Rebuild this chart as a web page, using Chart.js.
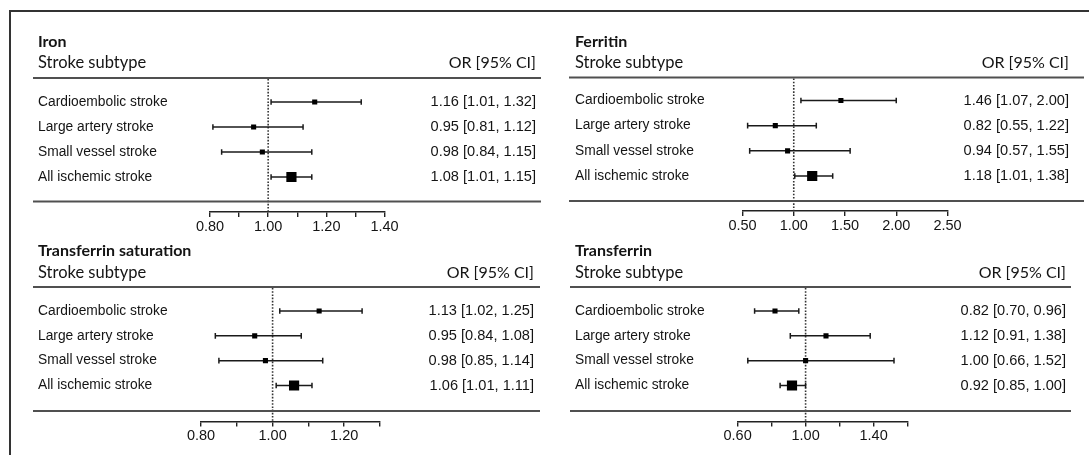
<!DOCTYPE html>
<html>
<head>
<meta charset="utf-8">
<script src="https://cdn.jsdelivr.net/npm/chart.js@4.4.1/dist/chart.umd.min.js"></script>
<style>
  html, body { margin: 0; padding: 0; background: #fff; }
  #wrap { position: relative; width: 1089px; height: 455px; overflow: hidden; background: #fff; }
  #wrap canvas { position: absolute; left: 0; top: 0; }
  #frame { position: absolute; left: 9px; top: 10px; width: 1200px; height: 600px; border: 2px solid #333; box-sizing: border-box; }
</style>
</head>
<body>
<div id="wrap">
  <div id="frame"></div>
  <canvas id="cIron" width="1089" height="455"></canvas>
  <canvas id="cFerritin" width="1089" height="455"></canvas>
  <canvas id="cTsat" width="1089" height="455"></canvas>
  <canvas id="cTransferrin" width="1089" height="455"></canvas>
</div>
<script>
// datos
const subtypes = ["Cardioembolic stroke", "Large artery stroke", "Small vessel stroke", "All ischemic stroke"];

const ironOR = [1.16, 0.95, 0.98, 1.08];
const ironLo = [1.01, 0.81, 0.84, 1.01];
const ironHi = [1.32, 1.12, 1.15, 1.15];
const ironTicks = [0.8, 0.9, 1.0, 1.1, 1.2, 1.3, 1.4];
const ironTickLabels = ["0.80", "", "1.00", "", "1.20", "", "1.40"];

const ferritinOR = [1.46, 0.82, 0.94, 1.18];
const ferritinLo = [1.07, 0.55, 0.57, 1.01];
const ferritinHi = [2.00, 1.22, 1.55, 1.38];
const ferritinTicks = [0.5, 1.0, 1.5, 2.0, 2.5];
const ferritinTickLabels = ["0.50", "1.00", "1.50", "2.00", "2.50"];

const tsatOR = [1.13, 0.95, 0.98, 1.06];
const tsatLo = [1.02, 0.84, 0.85, 1.01];
const tsatHi = [1.25, 1.08, 1.14, 1.11];
const tsatTicks = [0.8, 0.9, 1.0, 1.1, 1.2, 1.3];
const tsatTickLabels = ["0.80", "", "1.00", "", "1.20", ""];

const transferrinOR = [0.82, 1.12, 1.00, 0.92];
const transferrinLo = [0.70, 0.91, 0.66, 0.85];
const transferrinHi = [0.96, 1.38, 1.52, 1.00];
const transferrinTicks = [0.6, 0.8, 1.0, 1.2, 1.4, 1.6];
const transferrinTickLabels = ["0.60", "", "1.00", "", "1.40", ""];

const TEXT = "#141414";
const LINE = "#505050";
const W = 1089, H = 455, AXIS_H = 24;

function fmt(v) { return v.toFixed(2); }

function forestPanel(canvasId, title, or, lo, hi, ticks, tickLabels, box) {
  const el = document.getElementById(canvasId);
  const step = (box.row3 - box.row0) / 3;
  const yMin = -(box.row0 - box.lineY) / step;
  const yMax = yMin + (box.axisY - box.lineY) / step;

  const ciSets = subtypes.map((s, i) => ({
    type: "line",
    data: [{ x: lo[i], y: i }, { x: hi[i], y: i }],
    borderColor: "#1a1a1a",
    borderWidth: 1.5,
    pointStyle: "line",
    rotation: 90,
    pointRadius: 2.8,
    pointBorderWidth: 1.5,
    pointBorderColor: "#1a1a1a",
    order: 2
  }));

  const pointSet = {
    type: "scatter",
    data: or.map((v, i) => ({ x: v, y: i })),
    pointStyle: "rect",
    pointRadius: or.map((v, i) => (i === or.length - 1 ? 7.2 : 3.6)),
    backgroundColor: "#000",
    borderWidth: 0,
    order: 1
  };

  const forestDeco = {
    id: "forestDeco_" + canvasId,
    beforeDatasetsDraw(chart) {
      const { ctx, chartArea } = chart;
      const xr = chart.scales.x.getPixelForValue(1);
      ctx.save();
      ctx.strokeStyle = "#333";
      ctx.lineWidth = 1.6;
      ctx.setLineDash([1.6, 1.6]);
      ctx.beginPath();
      ctx.moveTo(xr, chartArea.top + 1);
      ctx.lineTo(xr, chartArea.bottom);
      ctx.stroke();
      ctx.restore();
    },
    afterDraw(chart) {
      const { ctx } = chart;
      const ys = chart.scales.y;
      ctx.save();
      ctx.fillStyle = TEXT;
      ctx.textBaseline = "middle";

      ctx.font = "bold 16px Lato";
      ctx.textAlign = "left";
      ctx.fillText(title, box.textX, box.titleY);

      ctx.font = "16.5px Lato";
      ctx.fillText("Stroke subtype", box.textX, box.subY);
      ctx.font = "16px Lato";
      ctx.textAlign = "right";
      ctx.fillText("OR [95% CI]", box.textR, box.subY);

      ctx.strokeStyle = LINE;
      ctx.lineWidth = 2;
      ctx.beginPath();
      ctx.moveTo(box.lineX0, box.lineY);
      ctx.lineTo(box.lineX1, box.lineY);
      ctx.moveTo(box.lineX0, box.bottomY);
      ctx.lineTo(box.lineX1, box.bottomY);
      ctx.stroke();

      subtypes.forEach((s, i) => {
        const y = ys.getPixelForValue(i);
        ctx.font = "13.8px 'Liberation Sans', Arial";
        ctx.textAlign = "left";
        ctx.fillText(s, box.textX, y);
        ctx.font = "14.6px 'Liberation Sans', Arial";
        ctx.textAlign = "right";
        ctx.fillText(fmt(or[i]) + " [" + fmt(lo[i]) + ", " + fmt(hi[i]) + "]", box.textR, y);
      });
      ctx.restore();
    }
  };

  new Chart(el, {
    type: "scatter",
    data: { datasets: [pointSet, ...ciSets] },
    options: {
      responsive: false,
      animation: false,
      events: [],
      layout: {
        padding: {
          left: box.x0,
          right: W - box.x1,
          top: box.lineY,
          bottom: H - box.axisY - AXIS_H
        }
      },
      plugins: { legend: { display: false }, tooltip: { enabled: false } },
      scales: {
        x: {
          type: "linear",
          min: ticks[0],
          max: ticks[ticks.length - 1],
          afterBuildTicks: (s) => { s.ticks = ticks.map(v => ({ value: v })); },
          afterFit: (s) => { s.height = AXIS_H; },
          ticks: {
            autoSkip: false,
            maxRotation: 0,
            padding: 1,
            color: TEXT,
            font: { family: "'Liberation Sans', Arial", size: 14.5 },
            callback: (v, idx) => tickLabels[idx]
          },
          grid: { drawOnChartArea: false, drawTicks: true, tickLength: 5, color: "#222", lineWidth: 1.4 },
          border: { display: true, color: "#222", width: 1.4 }
        },
        y: {
          type: "linear",
          display: false,
          reverse: true,
          min: yMin,
          max: yMax
        }
      }
    },
    plugins: [forestDeco]
  });
}

forestPanel("cIron", "Iron", ironOR, ironLo, ironHi, ironTicks, ironTickLabels, {
  textX: 38, textR: 536, titleY: 42, subY: 63, lineY: 78, lineX0: 33, lineX1: 541,
  row0: 102, row3: 177, bottomY: 201.5, axisY: 212, x0: 210, x1: 384.5
});
forestPanel("cFerritin", "Ferritin", ferritinOR, ferritinLo, ferritinHi, ferritinTicks, ferritinTickLabels, {
  textX: 575, textR: 1069, titleY: 42, subY: 63, lineY: 77.5, lineX0: 569, lineX1: 1084,
  row0: 100.5, row3: 176, bottomY: 201, axisY: 211, x0: 742.5, x1: 947.5
});
forestPanel("cTsat", "Transferrin saturation", tsatOR, tsatLo, tsatHi, tsatTicks, tsatTickLabels, {
  textX: 38, textR: 534, titleY: 251, subY: 273, lineY: 287, lineX0: 33, lineX1: 540,
  row0: 311, row3: 385.5, bottomY: 411, axisY: 421.5, x0: 201, x1: 380
});
forestPanel("cTransferrin", "Transferrin", transferrinOR, transferrinLo, transferrinHi, transferrinTicks, transferrinTickLabels, {
  textX: 575, textR: 1066, titleY: 251, subY: 273, lineY: 287, lineX0: 570, lineX1: 1071,
  row0: 311, row3: 385.5, bottomY: 411, axisY: 421.5, x0: 737.6, x1: 907.6
});
</script>
</body>
</html>
